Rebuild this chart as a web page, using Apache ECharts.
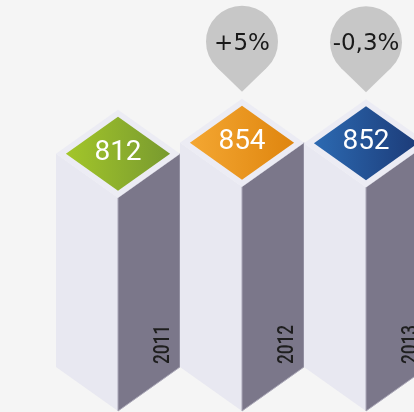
<!DOCTYPE html>
<html>
<head>
<meta charset="utf-8">
<script src="https://cdn.jsdelivr.net/npm/echarts@6.0.0/dist/echarts.min.js"></script>
<style>
  html, body { margin: 0; padding: 0; background: #f5f5f5; }
  #chart { width: 414px; height: 412px; }
</style>
</head>
<body>
<div id="chart"></div>
<script>
const years = ['2011', '2012', '2013']
const values = [812, 854, 852]
const changes = ['', '+5%', '-0,3%']

// diamond gradient colours, left -> right
const diamondColors = [
  ['#a3c62a', '#789a2f'],
  ['#f4a732', '#df850e'],
  ['#2c6ab2', '#1c3b78']
]

function renderItem(params, api) {
  const i = params.dataIndex
  const top = api.coord([api.value(0), api.value(1)])
  const base = api.coord([api.value(0), 0])
  const hw = api.size([1, 0])[0] / 2
  const dy = hw * 0.71
  const x = top[0]
  const yF = top[1]
  const yB = base[1]
  const cy = yF - dy
  const s = 0.84

  const children = [
    {
      type: 'polygon',
      shape: { points: [[x - hw, yF - dy], [x, yF], [x, yB], [x - hw, yB - dy]] },
      style: { fill: '#e8e8f1' }
    },
    {
      type: 'polygon',
      shape: { points: [[x, yF], [x + hw, yF - dy], [x + hw, yB - dy], [x, yB]] },
      style: { fill: '#7b778a', stroke: '#a9a6b6', lineWidth: 1 }
    },
    {
      type: 'polygon',
      shape: { points: [[x, yF - 2 * dy], [x + hw, yF - dy], [x, yF], [x - hw, yF - dy]] },
      style: { fill: '#ececf4' }
    },
    {
      type: 'polygon',
      shape: { points: [[x, cy - s * dy], [x + s * hw, cy], [x, cy + s * dy], [x - s * hw, cy]] },
      style: {
        fill: new echarts.graphic.LinearGradient(0, 0, 1, 0, [
          { offset: 0, color: diamondColors[i][0] },
          { offset: 1, color: diamondColors[i][1] }
        ])
      }
    },
    {
      type: 'text',
      x: x,
      y: cy - 1,
      style: {
        text: String(values[i]),
        fill: '#ffffff',
        font: '28px Roboto',
        align: 'center',
        verticalAlign: 'middle'
      }
    },
    {
      type: 'text',
      x: x + hw * 0.74,
      y: yB - 47,
      rotation: Math.PI / 2,
      scaleX: 0.78,
      style: {
        text: years[i],
        fill: '#1e1e1e',
        font: '500 22px Roboto',
        align: 'left',
        verticalAlign: 'middle'
      }
    }
  ]

  if (changes[i]) {
    const tipY = yF - 2 * dy - 7
    const r = 36
    const d = 50
    const cyPin = tipY - d
    const a = Math.acos(r / d)
    const tx = r * Math.sin(a)
    const ty = r * Math.cos(a)
    children.push(
      {
        type: 'circle',
        shape: { cx: x, cy: cyPin, r: r },
        style: { fill: '#c7c7c7' }
      },
      {
        type: 'polygon',
        shape: { points: [[x - tx, cyPin + ty], [x + tx, cyPin + ty], [x, tipY]] },
        style: { fill: '#c7c7c7' }
      },
      {
        type: 'text',
        x: x,
        y: cyPin + 2,
        style: {
          text: changes[i],
          fill: '#1a1a1a',
          font: '23px "DejaVu Sans"',
          align: 'center',
          verticalAlign: 'middle'
        }
      }
    )
  }

  return { type: 'group', children: children }
}

const option = {
  backgroundColor: '#f5f5f5',
  animation: false,
  grid: {
    left: 56,
    width: 372,
    top: 17,
    bottom: 1,
    containLabel: false,
    outerBoundsMode: 'none'
  },
  xAxis: {
    type: 'category',
    data: years,
    show: false
  },
  yAxis: {
    type: 'value',
    min: 0,
    max: 1500,
    show: false
  },
  series: [
    {
      type: 'custom',
      renderItem: renderItem,
      clip: false,
      data: values.map((v, i) => [i, v])
    }
  ]
}

const myChart = echarts.init(document.getElementById('chart'))
myChart.setOption(option)
</script>
</body>
</html>
